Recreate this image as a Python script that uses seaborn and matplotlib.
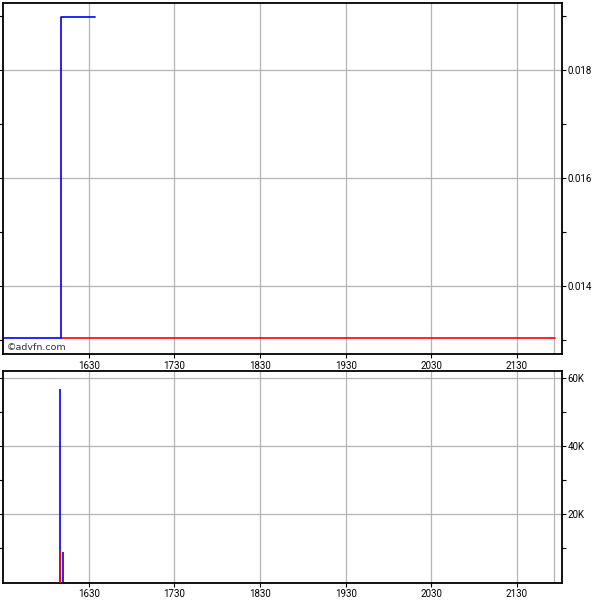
import matplotlib
matplotlib.use("Agg")
import matplotlib.pyplot as plt
import seaborn as sns
import pandas as pd
from matplotlib.ticker import FixedLocator, FixedFormatter

# ---- data (time in decimal hours) ----
price_times = [15.5, 16.18, 16.575]
price_values = [0.01303, 0.01898, 0.01898]
ref_times = [16.18, 21.95]
ref_values = [0.01303, 0.01303]

vol_up_times = [16.165, 16.205]
vol_up_values = [56800, 8900]
vol_down_times = [16.165]
vol_down_values = [9600]

xtick_pos = [16.5, 17.5, 18.5, 19.5, 20.5, 21.5]
xtick_labels = ["1630", "1730", "1830", "1930", "2030", "2130"]
session_end = 21.936

price_ticks = [0.014, 0.016, 0.018]
price_tick_labels = ["0.014", "0.016", "0.018"]
price_minor = [0.013, 0.015, 0.017, 0.019]
vol_ticks = [20000, 40000, 60000]
vol_tick_labels = ["20K", "40K", "60K"]
vol_minor = [10000, 30000, 50000]

sns.set_theme(style="white")
plt.rcParams["font.family"] = ["Roboto", "DejaVu Sans"]

fig = plt.figure(figsize=(6, 6), dpi=100)
ax1 = fig.add_axes([3/600, 1 - 354/600, 559.3/600, 351/600])
ax2 = fig.add_axes([3/600, 1 - 582.5/600, 559.3/600, 212/600])

grid_c = "#b4b4b4"
for ax in (ax1, ax2):
    ax.set_xlim(15.5, 22.03)
    for s in ax.spines.values():
        s.set_color("black")
        s.set_linewidth(1.3)
    ax.set_xticks(xtick_pos)
    ax.set_xticklabels(xtick_labels, fontsize=7)
    for xp in xtick_pos + [session_end]:
        ax.axvline(xp, color=grid_c, lw=0.9, zorder=0)
    ax.tick_params(axis="x", direction="out", length=3, width=0.8, pad=2,
                   bottom=True, colors="black")
    ax.tick_params(axis="y", which="both", direction="out", length=3, width=0.8,
                   left=True, right=True, labelleft=False, labelright=True,
                   labelsize=7, pad=1, colors="black")

# price panel
df_ref = pd.DataFrame({"t": ref_times, "p": ref_values})
df_price = pd.DataFrame({"t": price_times, "p": price_values})
sns.lineplot(data=df_ref, x="t", y="p", ax=ax1, color="#ff0000", lw=1.2,
             estimator=None, sort=False)
sns.lineplot(data=df_price, x="t", y="p", ax=ax1, color="#0000ff", lw=1.2,
             estimator=None, sort=False, drawstyle="steps-post")
ax1.set_ylim(0.012741, 0.019241)
ax1.yaxis.set_major_locator(FixedLocator(price_ticks))
ax1.yaxis.set_major_formatter(FixedFormatter(price_tick_labels))
ax1.yaxis.set_minor_locator(FixedLocator(price_minor))
for yv in price_ticks:
    ax1.axhline(yv, color=grid_c, lw=0.9, zorder=0)
ax1.set_xlabel("")
ax1.set_ylabel("")
ax1.text(0.0075, 0.006, "\u00a9advfn.com", transform=ax1.transAxes,
         fontsize=6.8, color="#333333", ha="left", va="bottom",
         family=["DejaVu Sans"])

# volume panel
ax2.vlines(vol_up_times, 0, vol_up_values, color="#0000ff", lw=1.2, zorder=2)
ax2.vlines(vol_down_times, 0, vol_down_values, color="#ff0000", lw=1.2, zorder=3)
ax2.set_ylim(0, 62350)
ax2.yaxis.set_major_locator(FixedLocator(vol_ticks))
ax2.yaxis.set_major_formatter(FixedFormatter(vol_tick_labels))
ax2.yaxis.set_minor_locator(FixedLocator(vol_minor))
for yv in vol_ticks:
    ax2.axhline(yv, color=grid_c, lw=0.9, zorder=0)
ax2.set_xlabel("")
ax2.set_ylabel("")

fig.savefig("out.png", dpi=100)
